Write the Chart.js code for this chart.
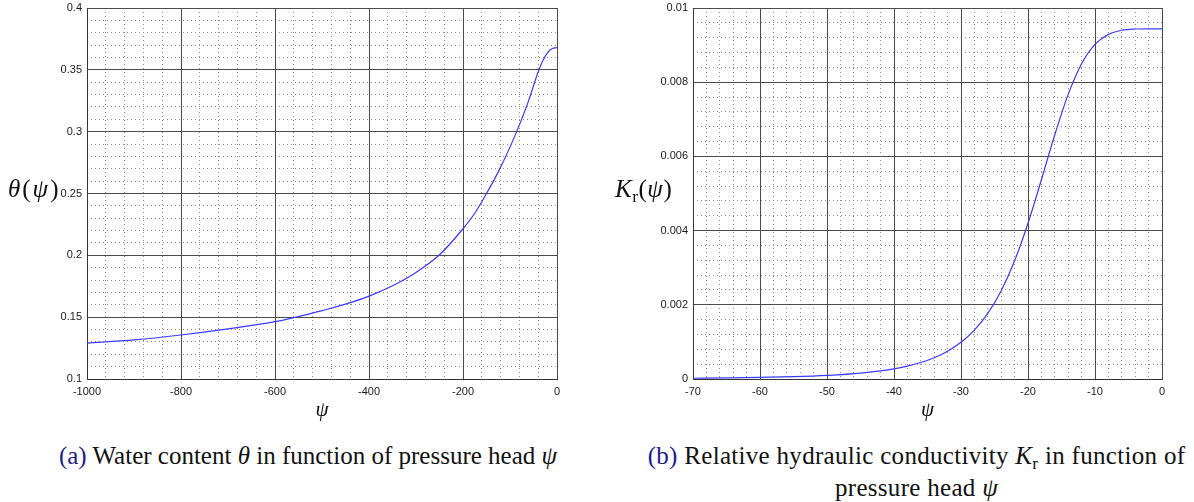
<!DOCTYPE html>
<html>
<head>
<meta charset="utf-8">
<script src="https://cdn.jsdelivr.net/npm/chart.js@4/dist/chart.umd.min.js"></script>
<style>
  body { margin: 0; background: #fff; width: 1194px; height: 502px; position: relative; overflow: hidden; font-family: "Liberation Serif", serif; color: #111; }
  .box { position: absolute; top: 0; height: 430px; }
  #boxA { left: 0; width: 580px; }
  #boxB { left: 600px; width: 585px; }
  .ylab { position: absolute; font-size: 25px; line-height: 25px; white-space: nowrap; }
  .caption { position: absolute; font-size: 25px; line-height: 29px; text-align: center; white-space: nowrap; }
  .caption .tag { color: #1c1c8c; }
  .sub { font-size: 0.7em; font-style: normal; position: relative; top: 0.3em; }
</style>
</head>
<body>
<div class="box" id="boxA"><canvas id="chartTheta"></canvas></div>
<div class="box" id="boxB"><canvas id="chartK"></canvas></div>

<div class="ylab" style="left: 8px; top: 176px; letter-spacing: 2px;"><i>θ</i>(<i>ψ</i>)</div>
<div class="ylab" style="left: 615px; top: 176px; letter-spacing: 0.5px;"><i>K</i><span class="sub">r</span>(<i>ψ</i>)</div>

<div class="caption" style="left: 0; width: 616px; top: 441px;"><span class="tag">(a)</span> Water content <i>θ</i> in function of pressure head <i>ψ</i></div>
<div class="caption" style="left: 616px; width: 601px; top: 441px; letter-spacing: 0.3px;"><span class="tag">(b)</span> Relative hydraulic conductivity <i>K</i><span class="sub">r</span> in function of<br>pressure head <i>ψ</i></div>

<script>
// (a) water content vs pressure head
const thetaPsi = [-1000, -900, -800, -700, -600, -550, -500, -450, -400, -350, -300, -250,
                  -200, -175, -150, -125, -100, -80, -60, -40, -30, -20, -10, 0];
const thetaValues = [0.129, 0.1316, 0.1356, 0.1405, 0.1464, 0.1505, 0.1553, 0.1605, 0.167, 0.1754, 0.1862, 0.2005,
                     0.2215, 0.234, 0.25, 0.2675, 0.2875, 0.3055, 0.3255, 0.3485, 0.3575, 0.364, 0.3672, 0.368];

// (b) relative hydraulic conductivity vs pressure head
const kPsi = [-70, -65, -60, -55, -50, -45, -40, -38, -36, -34, -32, -30, -28, -26,
              -24, -22, -20, -18, -16, -14, -12, -10, -8, -6, -4, -2, 0];
const kValues = [0.0000199, 0.0000283, 0.0000413, 0.000062, 0.0000971, 0.000159, 0.000274, 0.000347, 0.000444,
                 0.000573, 0.000749, 0.000989, 0.001319, 0.001769, 0.00238, 0.003186, 0.004197, 0.00537,
                 0.006583, 0.007672, 0.008498, 0.009018, 0.009289, 0.009401, 0.009434, 0.00944, 0.00944];

// axis ranges: [min, max, major step, minor step]
const thetaXAxis = [-1000, 0, 200, 40];
const thetaYAxis = [0.1, 0.4, 0.05, 0.01];
const kXAxis = [-70, 0, 10, 2];
const kYAxis = [0, 0.01, 0.002, 0.0004];

const CURVE_COLOR = '#3a3aff';
const MAJOR_GRID = '#4a4a4a';
const MINOR_GRID = '#8a8a8a';
const TICK_FONT = { family: '"Liberation Sans", Arial, sans-serif', size: 11 };

const fmt = v => String(parseFloat(v.toFixed(6)));

function minorAxis(range, pos) {
    return {
        type: 'linear', position: pos, min: range[0], max: range[1],
        ticks: { display: false, stepSize: range[3] },
        grid: { color: MINOR_GRID, lineWidth: 1, drawTicks: false, z: -1 },
        border: { display: false, dash: [1, 3] },
        afterFit: s => { if (pos === 'bottom') s.height = 0; else s.width = 0; }
    };
}

function majorAxis(range, pos, size, title) {
    return {
        type: 'linear', position: pos, min: range[0], max: range[1],
        ticks: {
            stepSize: range[2], font: TICK_FONT, color: '#1a1a1a',
            padding: pos === 'bottom' ? 6 : 5, autoSkip: false, maxRotation: 0,
            callback: fmt
        },
        grid: { color: MAJOR_GRID, lineWidth: 1, drawTicks: false },
        border: { display: true, color: '#333', width: 1 },
        title: title ? {
            display: true, text: title, color: '#111',
            font: { family: '"Liberation Serif", serif', size: 21, style: 'italic' },
            padding: { top: 0, bottom: 7 }
        } : { display: false },
        afterFit: s => {
            if (pos === 'bottom') {
                s.height = size;
            } else {
                s.width = size;
                // the top label may stick out above the plot area
                s.paddingTop = 0;
                s.paddingBottom = 0;
            }
        }
    };
}

function makeChart(id, xs, ys, xr, yr, yWidth) {
    return new Chart(document.getElementById(id), {
        type: 'line',
        data: {
            datasets: [{
                data: xs.map((x, i) => ({ x: x, y: ys[i] })),
                borderColor: CURVE_COLOR,
                borderWidth: 1.2,
                pointRadius: 0,
                cubicInterpolationMode: 'monotone',
                fill: false,
                xAxisID: 'x',
                yAxisID: 'y'
            }]
        },
        options: {
            responsive: true,
            maintainAspectRatio: false,
            animation: false,
            layout: { padding: { top: 8, right: 23, bottom: 0, left: 0 } },
            plugins: { legend: { display: false }, tooltip: { enabled: false } },
            scales: {
                xMinor: minorAxis(xr, 'bottom'),
                yMinor: minorAxis(yr, 'left'),
                x: majorAxis(xr, 'bottom', 51, 'ψ'),
                y: majorAxis(yr, 'left', yWidth, null)
            }
        }
    });
}

makeChart('chartTheta', thetaPsi, thetaValues, thetaXAxis, thetaYAxis, 87);
makeChart('chartK', kPsi, kValues, kXAxis, kYAxis, 93);
</script>
</body>
</html>
